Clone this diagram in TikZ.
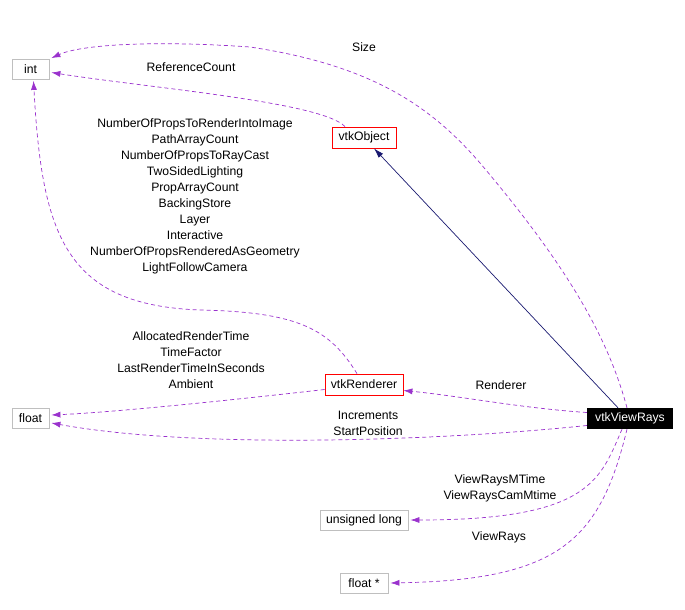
\documentclass[tikz,border=0pt]{standalone}
\usepackage{fontspec}
\setmainfont{Liberation Sans}
\usetikzlibrary{arrows.meta}
\definecolor{edgepurple}{HTML}{9A32CD}
\definecolor{navyedge}{HTML}{191970}
\definecolor{boxgray}{HTML}{BFBFBF}
\begin{document}
\begin{tikzpicture}[x=1pt,y=-1pt,
  every node/.style={font=\fontsize{12.2}{16}\selectfont, inner sep=0pt},
  plain/.style={draw=boxgray, line width=0.8pt, minimum height=20pt},
  cls/.style={draw=red, line width=0.8pt, minimum height=21pt},
  main/.style={fill=black, text=white, minimum height=21pt},
  dep/.style={draw=edgepurple, dashed, dash pattern=on 4pt off 3pt, line width=0.7pt,
     -{Latex[length=9pt,width=6pt]}},
  inh/.style={draw=navyedge, line width=0.7pt, -{Latex[length=10pt,width=6pt]}},
  lbl/.style={align=center}]
\useasboundingbox (0,0) rectangle (685,610);
\node[plain, minimum width=37pt] (int) at (30.5,69.5) {int};
\node[cls, minimum width=64pt] (obj) at (364,137.5) {vtkObject};
\node[cls, minimum width=78pt] (ren) at (364,384.5) {vtkRenderer};
\node[plain, minimum width=37pt] (flt) at (30.5,418) {float};
\node[main, minimum width=86pt] (vr) at (630,418.5) {vtkViewRays};
\node[plain, minimum width=88pt] (ul) at (364,520) {unsigned long};
\node[plain, minimum width=48pt] (fp) at (364,583) {float *};

% anchors (node shapes live in screen orientation: yshift>0 is up)
\coordinate (vrT0) at ([xshift=-12pt]vr.north);
\coordinate (vrT1) at ([xshift=-3pt]vr.north);
\coordinate (vrB1) at ([xshift=-8pt]vr.south);
\coordinate (vrB2) at ([xshift=-3pt]vr.south);
\coordinate (vrL1) at ([yshift=6pt]vr.west);
\coordinate (vrL2) at ([yshift=-7pt]vr.west);
\coordinate (objT) at ([xshift=-19pt]obj.north);
\coordinate (objB) at ([xshift=10pt]obj.south);
\coordinate (renT) at ([xshift=-7pt]ren.north);
\coordinate (renL) at ([yshift=-5pt]ren.west);
\coordinate (renR) at ([yshift=-6pt]ren.east);
\coordinate (intNE) at ([xshift=2pt,yshift=1pt]int.north east);
\coordinate (intE) at ([xshift=2pt,yshift=-3pt]int.east);
\coordinate (intS) at ([xshift=3pt,yshift=-1pt]int.south);
\coordinate (fltE1) at ([xshift=2pt,yshift=3pt]flt.east);
\coordinate (fltE2) at ([xshift=2pt,yshift=-5pt]flt.east);
\coordinate (ulE) at ([xshift=2pt]ul.east);
\coordinate (fpE) at ([xshift=2pt]fp.east);

\draw[inh] (vrT0) -- (objB);
\draw[dep] (objT) .. controls (322,102) and (150,88) .. (intE);
\draw[dep] (vrT1) .. controls (610,345) and (575,275) .. (480,163)
  .. controls (430,105) and (370,65) .. (250,47)
  .. controls (150,40) and (80,45) .. (intNE);
\draw[dep] (renT) .. controls (330,330) and (300,312) .. (200,310)
  .. controls (65,305) and (42,235) .. (intS);
\draw[dep] (renL) .. controls (250,398) and (120,412) .. (fltE1);
\draw[dep] (vrL1) .. controls (520,408) and (460,396) .. (renR);
\draw[dep] (vrL2) .. controls (450,440) and (200,450) .. (fltE2);
\draw[dep] (vrB1) .. controls (600,480) and (590,520) .. (ulE);
\draw[dep] (vrB2) .. controls (600,540) and (560,580) .. (fpE);

\node[lbl] (lsize) at (364,47) {Size};
\node[lbl] (lref) at (191,67) {ReferenceCount};
\node[lbl] (lrenint) at (195,196) {NumberOfPropsToRenderIntoImage\\PathArrayCount\\NumberOfPropsToRayCast\\TwoSidedLighting\\PropArrayCount\\BackingStore\\Layer\\Interactive\\NumberOfPropsRenderedAsGeometry\\LightFollowCamera};
\node[lbl] (lrenflt) at (191,360) {AllocatedRenderTime\\TimeFactor\\LastRenderTimeInSeconds\\Ambient};
\node[lbl] (lrender) at (501,385) {Renderer};
\node[lbl] (linc) at (368,423) {Increments\\StartPosition};
\node[lbl] (lmt) at (500,488) {ViewRaysMTime\\ViewRaysCamMtime};
\node[lbl] (lvr) at (499,537) {ViewRays};
\end{tikzpicture}
\end{document}
